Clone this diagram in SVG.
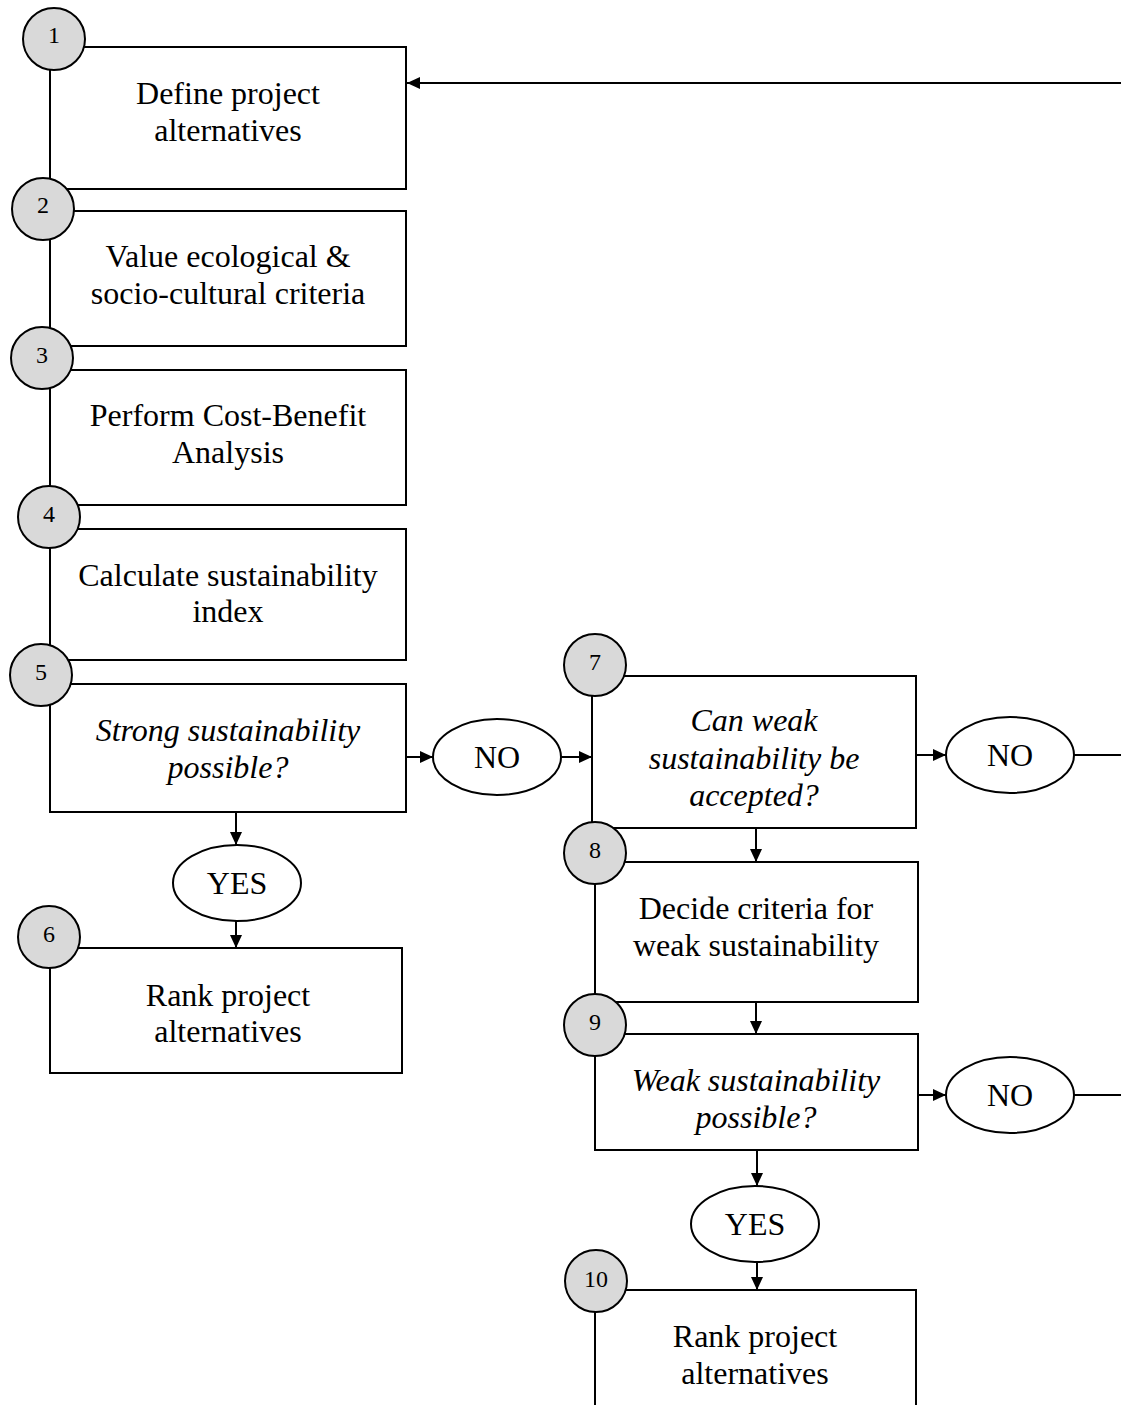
<svg xmlns="http://www.w3.org/2000/svg" width="1121" height="1405" viewBox="0 0 1121 1405">
<style>
.box{fill:#fff;stroke:#000;stroke-width:2}
.num{fill:#d9d9d9;stroke:#000;stroke-width:2}
.ell{fill:#fff;stroke:#000;stroke-width:2}
.t{font-family:"Liberation Serif","Times New Roman",serif;font-size:32px;text-anchor:middle;fill:#000}
.i{font-style:italic}
.n{font-family:"Liberation Serif","Times New Roman",serif;font-size:24px;text-anchor:middle;fill:#000}
.c{stroke:#000;stroke-width:2;fill:none}
</style>
<defs>
<marker id="ah" viewBox="0 0 13 12" refX="13" refY="6" markerWidth="13" markerHeight="12" markerUnits="userSpaceOnUse" orient="auto">
<path d="M0,0 L13,6 L0,12 Z" fill="#000"/>
</marker>
</defs>
<rect width="1121" height="1405" fill="#fff"/>
<g id="connectors">
<line class="c" x1="1121" y1="83" x2="407" y2="83" marker-end="url(#ah)"/>
<line class="c" x1="406" y1="757" x2="433" y2="757" marker-end="url(#ah)"/>
<line class="c" x1="561" y1="757" x2="592" y2="757" marker-end="url(#ah)"/>
<line class="c" x1="236" y1="812" x2="236" y2="845" marker-end="url(#ah)"/>
<line class="c" x1="236" y1="921" x2="236" y2="948" marker-end="url(#ah)"/>
<line class="c" x1="916" y1="755" x2="946" y2="755" marker-end="url(#ah)"/>
<line class="c" x1="1074" y1="755" x2="1121" y2="755"/>
<line class="c" x1="756" y1="828" x2="756" y2="862" marker-end="url(#ah)"/>
<line class="c" x1="756" y1="1002" x2="756" y2="1034" marker-end="url(#ah)"/>
<line class="c" x1="918" y1="1095" x2="946" y2="1095" marker-end="url(#ah)"/>
<line class="c" x1="1074" y1="1095" x2="1121" y2="1095"/>
<line class="c" x1="757" y1="1150" x2="757" y2="1186" marker-end="url(#ah)"/>
<line class="c" x1="757" y1="1262" x2="757" y2="1290" marker-end="url(#ah)"/>
</g>
<g id="node1">
<rect class="box" x="50" y="47" width="356" height="142"/>
<text class="t" x="228" y="104">Define project</text>
<text class="t" x="228" y="141">alternatives</text>
</g>
<g id="node2">
<rect class="box" x="50" y="211" width="356" height="135"/>
<text class="t" x="228" y="267">Value ecological &amp;</text>
<text class="t" x="228" y="304">socio-cultural criteria</text>
</g>
<g id="node3">
<rect class="box" x="50" y="370" width="356" height="135"/>
<text class="t" x="228" y="426">Perform Cost-Benefit</text>
<text class="t" x="228" y="463">Analysis</text>
</g>
<g id="node4">
<rect class="box" x="50" y="529" width="356" height="131"/>
<text class="t" x="228" y="586">Calculate sustainability</text>
<text class="t" x="228" y="622">index</text>
</g>
<g id="node5">
<rect class="box" x="50" y="684" width="356" height="128"/>
<text class="t i" x="228" y="741">Strong sustainability</text>
<text class="t i" x="228" y="778">possible?</text>
</g>
<g id="no1">
<ellipse class="ell" cx="497" cy="757" rx="64" ry="38"/>
<text class="t" x="497" y="768">NO</text>
</g>
<g id="yes1">
<ellipse class="ell" cx="237" cy="883" rx="64" ry="38"/>
<text class="t" x="237" y="894">YES</text>
</g>
<g id="node6">
<rect class="box" x="50" y="948" width="352" height="125"/>
<text class="t" x="228" y="1006">Rank project</text>
<text class="t" x="228" y="1042">alternatives</text>
</g>
<g id="node7">
<rect class="box" x="592" y="676" width="324" height="152"/>
<text class="t i" x="754" y="731">Can weak</text>
<text class="t i" x="754" y="769">sustainability be</text>
<text class="t i" x="754" y="806">accepted?</text>
</g>
<g id="no2">
<ellipse class="ell" cx="1010" cy="755" rx="64" ry="38"/>
<text class="t" x="1010" y="766">NO</text>
</g>
<g id="node8">
<rect class="box" x="595" y="862" width="323" height="140"/>
<text class="t" x="756" y="919">Decide criteria for</text>
<text class="t" x="756" y="956">weak sustainability</text>
</g>
<g id="node9">
<rect class="box" x="595" y="1034" width="323" height="116"/>
<text class="t i" x="756" y="1091">Weak sustainability</text>
<text class="t i" x="756" y="1128">possible?</text>
</g>
<g id="no3">
<ellipse class="ell" cx="1010" cy="1095" rx="64" ry="38"/>
<text class="t" x="1010" y="1106">NO</text>
</g>
<g id="yes2">
<ellipse class="ell" cx="755" cy="1224" rx="64" ry="38"/>
<text class="t" x="755" y="1235">YES</text>
</g>
<g id="node10">
<rect class="box" x="595" y="1290" width="321" height="140"/>
<text class="t" x="755" y="1347">Rank project</text>
<text class="t" x="755" y="1384">alternatives</text>
</g>
<g id="badges">
<g id="b1"><circle class="num" cx="54" cy="39" r="31"/><text class="n" x="54" y="43">1</text></g>
<g id="b2"><circle class="num" cx="43" cy="209" r="31"/><text class="n" x="43" y="213">2</text></g>
<g id="b3"><circle class="num" cx="42" cy="358" r="31"/><text class="n" x="42" y="363">3</text></g>
<g id="b4"><circle class="num" cx="49" cy="517" r="31"/><text class="n" x="49" y="522">4</text></g>
<g id="b5"><circle class="num" cx="41" cy="675" r="31"/><text class="n" x="41" y="680">5</text></g>
<g id="b6"><circle class="num" cx="49" cy="937" r="31"/><text class="n" x="49" y="942">6</text></g>
<g id="b7"><circle class="num" cx="595" cy="665" r="31"/><text class="n" x="595" y="670">7</text></g>
<g id="b8"><circle class="num" cx="595" cy="853" r="31"/><text class="n" x="595" y="858">8</text></g>
<g id="b9"><circle class="num" cx="595" cy="1025" r="31"/><text class="n" x="595" y="1030">9</text></g>
<g id="b10"><circle class="num" cx="596" cy="1281" r="31"/><text class="n" x="596" y="1287">10</text></g>
</g>
</svg>
